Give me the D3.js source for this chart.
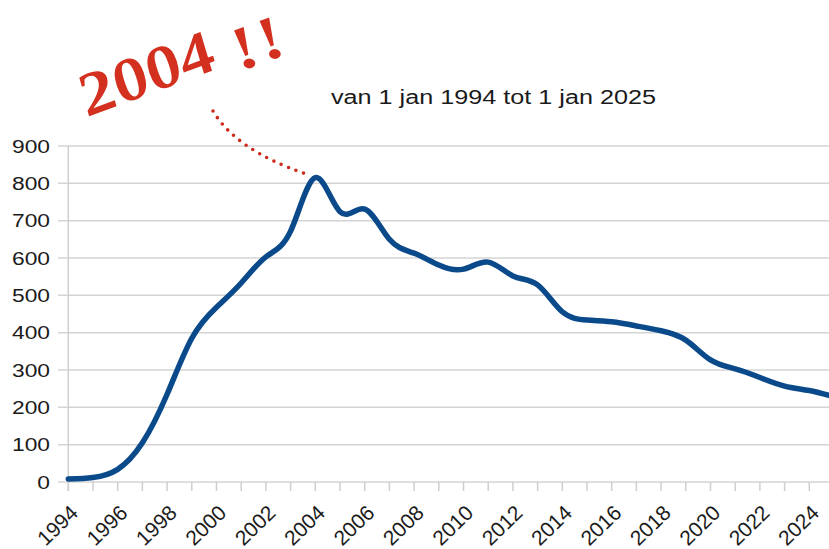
<!DOCTYPE html>
<html>
<head>
<meta charset="utf-8">
<script src="https://cdn.jsdelivr.net/npm/d3@7"></script>
<style>
  html, body { margin: 0; padding: 0; background: #fff; }
  svg { display: block; }
</style>
</head>
<body>
<svg id="chart" width="829" height="549"></svg>
<script>
// ---- data ----
const years = d3.range(1994, 2026);
const values = [8, 12, 34, 105, 235, 385, 468, 533, 603, 672, 815, 724, 731, 650, 613, 581,
                570, 589, 552, 528, 456, 434, 429, 418, 405, 380, 327, 303, 280, 257, 245, 228];
const yTicks = [0, 100, 200, 300, 400, 500, 600, 700, 800, 900];
const xLabelYears = d3.range(1994, 2025, 2);
const title = "van 1 jan 1994 tot 1 jan 2025";
const annotationParts = ["2004", "!!"];
const peakYear = 2004;

const W = 829, H = 549;
const svg = d3.select("#chart");

const x = d3.scaleLinear().domain([1994, 2025]).range([68.3, 834]);
const y = d3.scaleLinear().domain([0, 900]).range([482, 146]);

// gridlines
svg.append("g").selectAll("line").data(yTicks).join("line")
  .attr("x1", 58).attr("x2", W)
  .attr("y1", d => y(d)).attr("y2", d => y(d))
  .attr("stroke", "#d4d4d4").attr("stroke-width", 1.5);

// y axis line
svg.append("line").attr("x1", x(1994)).attr("x2", x(1994))
  .attr("y1", y(900)).attr("y2", y(0) + 9)
  .attr("stroke", "#cfcfcf").attr("stroke-width", 1.5);

// x ticks (every year)
svg.append("g").selectAll("line").data(d3.range(1994, 2026)).join("line")
  .attr("x1", d => x(d)).attr("x2", d => x(d))
  .attr("y1", y(0)).attr("y2", y(0) + 9)
  .attr("stroke", "#cfcfcf").attr("stroke-width", 1.5);

// y labels
svg.append("g").selectAll("text").data(yTicks).join("text")
  .attr("transform", d => `translate(50,${y(d)}) scale(1.2,1)`)
  .attr("dy", "0.35em")
  .attr("text-anchor", "end")
  .attr("font-family", "Liberation Sans, Arial, sans-serif")
  .attr("font-size", 19)
  .attr("fill", "#1a1a1a")
  .text(d => d);

// x labels rotated
svg.append("g").selectAll("text").data(xLabelYears).join("text")
  .attr("transform", d => `translate(${x(d) + 6},${y(0) + 27}) rotate(-44)`)
  .attr("text-anchor", "end")
  .attr("dy", "0.35em")
  .attr("font-family", "Liberation Sans, Arial, sans-serif")
  .attr("font-size", 21)
  .attr("fill", "#1a1a1a")
  .text(d => d);

// data line
const line = d3.line()
  .x((d, i) => x(years[i]))
  .y(d => y(d))
  .curve(d3.curveNatural);
svg.append("path")
  .datum(values)
  .attr("d", line)
  .attr("fill", "none")
  .attr("stroke", "#0b4a8a")
  .attr("stroke-width", 5.5)
  .attr("stroke-linecap", "round")
  .attr("stroke-linejoin", "round");

// title
svg.append("text")
  .attr("transform", "translate(331,104) scale(1.2,1)")
  .attr("font-family", "Liberation Sans, Arial, sans-serif")
  .attr("font-size", 21)
  .attr("fill", "#1a1a1a")
  .text(title);

// annotation text
const annStyle = sel => sel
  .attr("font-family", "Liberation Serif, serif")
  .attr("font-style", "italic")
  .attr("font-weight", "bold")
  .attr("font-size", 60)
  .attr("fill", "#d3301f");
svg.append("text")
  .attr("transform", "translate(90,116) scale(1.2,1) rotate(-24)")
  .call(annStyle)
  .text(annotationParts[0]);
svg.append("text")
  .attr("transform", "translate(241,71) scale(1.2,1) rotate(-24)")
  .call(annStyle)
  .text(annotationParts[1]);

// dotted leader
const pIdx = years.indexOf(peakYear);
const ex = x(peakYear) - 10, ey = y(values[pIdx]) - 4;
svg.append("path")
  .attr("d", `M213,111 Q236,150 ${ex},${ey}`)
  .attr("fill", "none")
  .attr("stroke", "#cc2a1e")
  .attr("stroke-width", 3.6)
  .attr("stroke-linecap", "round")
  .attr("stroke-dasharray", "0 8");
</script>
</body>
</html>
